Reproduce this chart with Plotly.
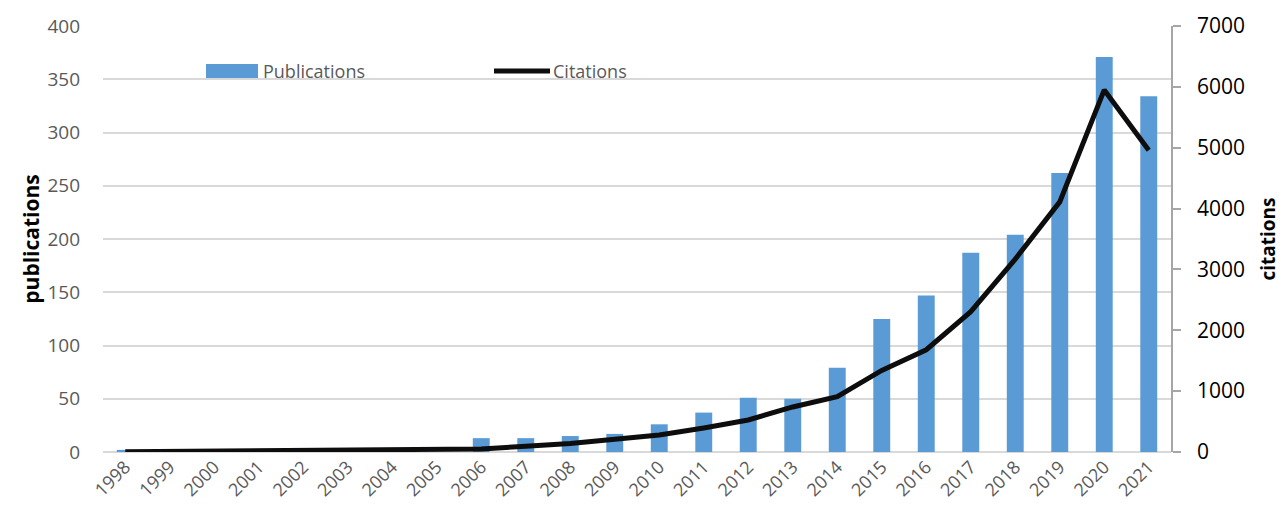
import plotly.graph_objects as go

# Yearly publication counts and citation counts
years = [str(y) for y in range(1998, 2022)]
publications = [2, 0, 0, 0, 0, 0, 0, 0, 13, 13, 15, 17, 26, 37, 51, 50,
                79, 125, 147, 187, 204, 262, 371, 334]
citations = [5, 12, 20, 20, 20, 22, 30, 35, 50, 95, 140, 210, 280, 395, 526, 740,
             909, 1340, 1680, 2305, 3170, 4110, 5950, 4960]

left_ticks = list(range(0, 401, 50))
right_ticks = list(range(0, 7001, 1000))

BAR_COLOR = "#5b9bd5"
GREY_TEXT = "#595959"
FONT = "Open Sans"

fig = go.Figure()

fig.add_trace(go.Bar(
    x=years, y=publications, name="Publications",
    marker=dict(color=BAR_COLOR, line=dict(width=0)),
    width=0.38, yaxis="y", showlegend=False,
))

fig.add_trace(go.Scatter(
    x=years, y=citations, name="Citations", mode="lines",
    line=dict(color="#0d0d0d", width=5),
    yaxis="y2", showlegend=False,
))

fig.update_layout(
    width=1285, height=515,
    margin=dict(l=103, r=114, t=26, b=63),
    paper_bgcolor="white", plot_bgcolor="white",
    font=dict(family=FONT),
    bargap=0.62,
    xaxis=dict(
        type="category", tickangle=-45, showgrid=False, showline=False,
        ticks="", tickfont=dict(size=18, color=GREY_TEXT), automargin=False,
    ),
    yaxis=dict(
        range=[0, 400], tickvals=left_ticks, showgrid=True,
        gridcolor="#d9d9d9", gridwidth=1.8, zeroline=True,
        zerolinecolor="#d9d9d9", zerolinewidth=1.8,
        showline=False, ticks="", ticklabelstandoff=22, automargin=False,
        tickfont=dict(size=19, color=GREY_TEXT),
        title=dict(text="<b>publications</b>", standoff=2,
                   font=dict(size=21, color="black")),
    ),
    yaxis2=dict(
        range=[0, 7000], tickvals=right_ticks, overlaying="y", side="right",
        showgrid=False, zeroline=False, showline=True,
        linecolor="#a6a6a6", linewidth=1.5, automargin=False,
        ticks="outside", ticklen=8, tickcolor="#a6a6a6", tickwidth=1.5,
        ticklabelstandoff=12,
        tickfont=dict(size=21, color="black"),
        title=dict(text="<b>citations</b>", standoff=18,
                   font=dict(size=19, color="black")),
    ),
)

# Legend row drawn in pixel space above the plot
fig.add_shape(type="rect", xref="paper", yref="paper",
              x0=(206 - 103) / 1068, x1=(258 - 103) / 1068,
              y0=(452 - 78) / 426, y1=(452 - 64) / 426,
              fillcolor=BAR_COLOR, line=dict(width=0))
fig.add_shape(type="line", xref="paper", yref="paper",
              x0=(494 - 103) / 1068, x1=(550 - 103) / 1068,
              y0=(452 - 71) / 426, y1=(452 - 71) / 426,
              line=dict(color="#0d0d0d", width=5))
fig.add_annotation(text="Publications", xref="paper", yref="paper",
                   x=(261 - 103) / 1068, y=(452 - 71) / 426,
                   xanchor="left", yanchor="middle", showarrow=False,
                   font=dict(size=18, color=GREY_TEXT, family=FONT))
fig.add_annotation(text="Citations", xref="paper", yref="paper",
                   x=(551 - 103) / 1068, y=(452 - 71) / 426,
                   xanchor="left", yanchor="middle", showarrow=False,
                   font=dict(size=18, color=GREY_TEXT, family=FONT))

fig.write_html("out.html")
